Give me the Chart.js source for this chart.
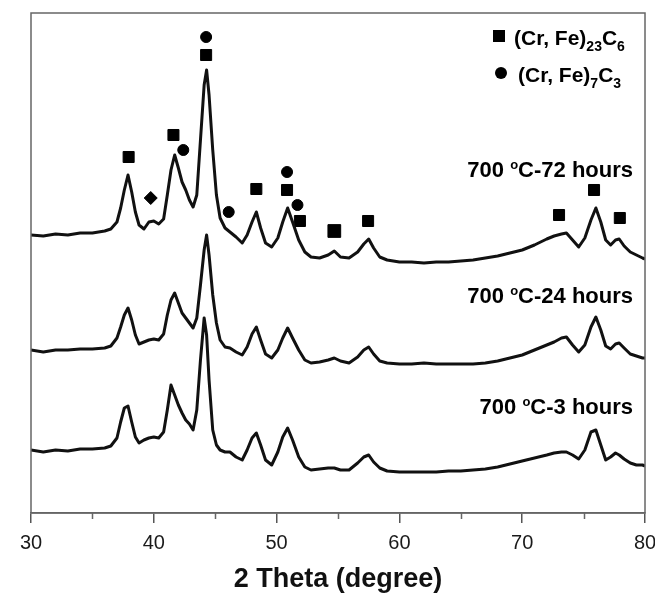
<!DOCTYPE html>
<html>
<head>
<meta charset="utf-8">
<script src="https://cdn.jsdelivr.net/npm/chart.js@4"></script>
<style>
    html, body { margin: 0; padding: 0; background: #fff; }
    #wrap { width: 655px; height: 593px; }
</style>
</head>
<body>
<div id="wrap"><canvas id="xrd" width="655" height="593"></canvas></div>
<script>
// 2 theta positions (degree) shared by the three patterns
const twoTheta = [30, 31, 32, 33, 34, 35, 36, 36.5, 37, 37.3, 37.6, 37.9, 38.2, 38.5, 38.8, 39.2, 39.6, 40, 40.4, 40.8,
    41.1, 41.4, 41.7, 42, 42.3, 42.6, 42.9, 43.2, 43.5, 43.8, 44.1, 44.3, 44.5, 44.8, 45.1, 45.4, 45.8, 46.2, 46.7, 47.2,
    47.6, 48, 48.35, 48.7, 49.1, 49.6, 50.1, 50.5, 50.9, 51.3, 51.8, 52.3, 52.8, 53.5, 54.2, 54.7, 55.2, 55.9, 56.6, 57.1,
    57.5, 57.9, 58.4, 59, 60, 61, 62, 63, 64, 65, 66, 67, 68, 69, 70, 71, 72, 72.6, 73.2, 73.6,
    74.1, 74.6, 75.1, 75.6, 76, 76.4, 76.8, 77.2, 77.6, 77.9, 78.3, 78.8, 79.3, 79.8, 80];

// intensity (a.u., stacked offsets as in the figure)
const hours72 = [278, 277, 279, 278, 280, 280, 282, 284, 291, 305, 323, 338, 321, 301, 288, 284, 291, 292, 289, 294,
    318, 343, 358, 345, 331, 323, 313, 306, 318, 373, 428, 443, 418, 363, 318, 295, 285, 281, 276, 270,
    278, 291, 301, 285, 270, 266, 275, 291, 305, 291, 273, 261, 256, 255, 258, 262, 256, 255, 261, 269,
    274, 265, 256, 253, 251, 251, 250, 251, 251, 252, 253, 255, 257, 260, 263, 268, 274, 277, 279, 280,
    273, 266, 275, 293, 305, 291, 273, 268, 273, 274, 267, 261, 258, 255, 254];
const hours24 = [163, 161, 163, 163, 164, 164, 165, 167, 175, 186, 198, 205, 193, 178, 169, 171, 173, 174, 173, 179,
    198, 213, 220, 210, 200, 195, 190, 185, 195, 228, 263, 278, 258, 218, 190, 173, 166, 165, 161, 158,
    166, 179, 186, 173, 159, 155, 163, 175, 185, 175, 163, 153, 150, 151, 153, 155, 152, 150, 156, 163,
    166, 159, 152, 150, 149, 149, 150, 149, 149, 149, 149, 150, 152, 155, 158, 163, 168, 171, 175, 176,
    168, 161, 168, 186, 196, 183, 167, 164, 169, 170, 165, 159, 157, 155, 155];
const hours3 = [63, 61, 63, 62, 64, 64, 65, 67, 75, 91, 105, 107, 91, 76, 70, 73, 75, 76, 75, 81,
    103, 128, 118, 108, 100, 93, 89, 83, 103, 153, 195, 178, 133, 83, 68, 63, 61, 61, 56, 53,
    63, 75, 80, 68, 53, 48, 61, 76, 85, 73, 56, 46, 43, 44, 45, 45, 43, 43, 50, 56,
    58, 51, 45, 42, 41, 41, 41, 41, 42, 42, 43, 44, 46, 49, 52, 55, 58, 60, 61, 61,
    58, 54, 63, 81, 83, 68, 53, 56, 60, 58, 54, 50, 48, 48, 47];

// phase markers above the 72 h pattern
const m23c6Theta = [37.95, 41.6, 44.26, 48.35, 50.85, 51.9, 54.7, 57.45, 73.0, 75.85, 77.95];
const m23c6Level = [356, 378, 458, 324, 323, 292, 282, 292, 298, 323, 295];
const m7c3Theta = [42.4, 44.26, 46.1, 50.85, 51.7];
const m7c3Level = [363, 476, 301, 341, 308];
const otherTheta = [39.75];
const otherLevel = [315];

const sampleNames = ['72 hours', '24 hours', '3 hours'];
const majorTicks = [30, 40, 50, 60, 70, 80];
const minorTicks = [35, 45, 55, 65, 75];

const pts = (xs, ys) => xs.map((v, i) => ({ x: v, y: ys[i] }));

const lineSet = (ys, name) => ({
    label: name,
    data: pts(twoTheta, ys),
    showLine: true,
    borderColor: '#111',
    borderWidth: 3,
    borderJoinStyle: 'round',
    pointRadius: 0,
    tension: 0
});

const markSet = (xs, ys, style, radius) => ({
    label: style,
    data: pts(xs, ys),
    showLine: false,
    pointStyle: style,
    pointRadius: radius,
    backgroundColor: '#000',
    borderColor: '#000',
    borderWidth: 1
});

// draw text pieces (sub/superscripts) one after another
const drawRuns = (ctx, runs, x, y, alignRight) => {
    let total = 0;
    runs.forEach(r => {
        ctx.font = `bold ${r.size}px "Liberation Sans", Arial, sans-serif`;
        r.w = ctx.measureText(r.text).width;
        total += r.w;
    });
    let cx = alignRight ? x - total : x;
    runs.forEach(r => {
        ctx.font = `bold ${r.size}px "Liberation Sans", Arial, sans-serif`;
        ctx.fillText(r.text, cx, y + (r.dy || 0));
        cx += r.w;
    });
};

const decorations = {
    id: 'decorations',
    afterDraw(chart) {
        const { ctx, chartArea: a, scales: { x } } = chart;
        ctx.save();

        // frame
        ctx.strokeStyle = '#666';
        ctx.lineWidth = 1.5;
        ctx.strokeRect(a.left, a.top, a.right - a.left, a.bottom - a.top);

        // minor ticks
        ctx.beginPath();
        minorTicks.forEach(v => {
            const px = Math.round(x.getPixelForValue(v)) + 0.5;
            ctx.moveTo(px, a.bottom);
            ctx.lineTo(px, a.bottom + 6);
        });
        ctx.stroke();

        ctx.fillStyle = '#000';
        ctx.textBaseline = 'alphabetic';

        // sample labels
        const baselines = [177, 303, 414];
        sampleNames.forEach((name, i) => {
            drawRuns(ctx, [
                { text: '700 ', size: 22 },
                { text: 'o', size: 13, dy: -8 },
                { text: 'C-' + name, size: 22 }
            ], 633, baselines[i], true);
        });

        // phase legend
        ctx.fillRect(493, 30, 12, 12);
        ctx.beginPath();
        ctx.arc(501, 73, 6, 0, Math.PI * 2);
        ctx.fill();
        drawRuns(ctx, [
            { text: '(Cr, Fe)', size: 21 },
            { text: '23', size: 14, dy: 6 },
            { text: 'C', size: 21 },
            { text: '6', size: 14, dy: 6 }
        ], 514, 45, false);
        drawRuns(ctx, [
            { text: '(Cr, Fe)', size: 21 },
            { text: '7', size: 14, dy: 6 },
            { text: 'C', size: 21 },
            { text: '3', size: 14, dy: 6 }
        ], 518, 82, false);

        ctx.restore();
    }
};

new Chart(document.getElementById('xrd'), {
    type: 'scatter',
    data: {
        datasets: [
            lineSet(hours72, sampleNames[0]),
            lineSet(hours24, sampleNames[1]),
            lineSet(hours3, sampleNames[2]),
            markSet(m23c6Theta, m23c6Level, 'rect', m23c6Theta.map(v => (v === 54.7 ? 9 : 7.8))),
            markSet(m7c3Theta, m7c3Level, 'circle', 5.5),
            markSet(otherTheta, otherLevel, 'rectRot', 6.5)
        ]
    },
    options: {
        responsive: false,
        devicePixelRatio: 1,
        animation: false,
        layout: { padding: { left: 31, right: 8, top: 13, bottom: 0 } },
        plugins: {
            legend: { display: false },
            tooltip: { enabled: false }
        },
        scales: {
            x: {
                type: 'linear',
                min: 30,
                max: 80,
                afterBuildTicks: scale => {
                    scale.ticks = majorTicks.map(v => ({ value: v }));
                },
                afterFit: scale => {
                    scale.height = 80;
                    scale.paddingLeft = 0;
                    scale.paddingRight = 0;
                },
                ticks: {
                    color: '#1a1a1a',
                    padding: 8,
                    maxRotation: 0,
                    font: { family: '"Liberation Sans", Arial, sans-serif', size: 20 }
                },
                grid: {
                    drawOnChartArea: false,
                    drawTicks: true,
                    tickLength: 10,
                    color: '#555',
                    lineWidth: 1.5
                },
                border: { display: true, color: '#666', width: 1.5 },
                title: {
                    display: true,
                    text: '2 Theta (degree)',
                    color: '#111',
                    padding: { top: 0, bottom: 0 },
                    font: { family: '"Liberation Sans", Arial, sans-serif', size: 27, weight: 'bold', lineHeight: 1 }
                }
            },
            y: {
                display: false,
                min: 0,
                max: 500
            }
        }
    },
    plugins: [decorations]
});
</script>
</body>
</html>
